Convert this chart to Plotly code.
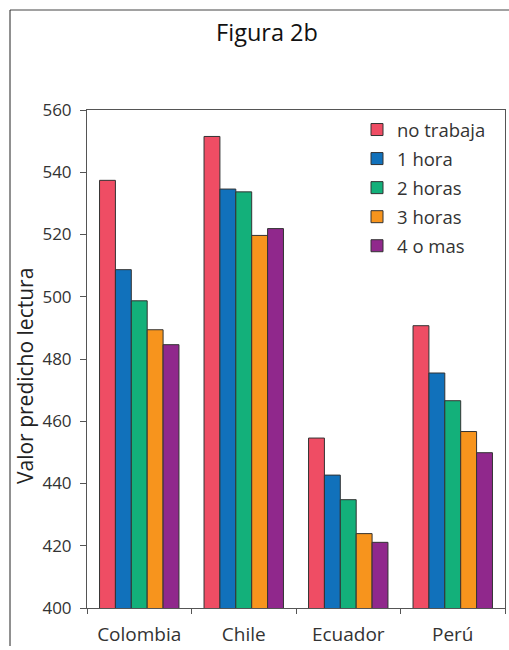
import plotly.graph_objects as go

categories = ["Colombia", "Chile", "Ecuador", "Perú"]
series_names = ["no trabaja", "1 hora", "2 horas", "3 horas", "4 o mas"]
no_trabaja = [537.4, 551.5, 454.6, 490.7]
una_hora = [508.7, 534.6, 442.7, 475.5]
dos_horas = [498.7, 533.7, 434.8, 466.6]
tres_horas = [489.4, 519.7, 423.9, 456.7]
cuatro_mas = [484.6, 521.9, 421.1, 449.9]
y_ticks = [400, 420, 440, 460, 480, 500, 520, 540, 560]

series_values = [no_trabaja, una_hora, dos_horas, tres_horas, cuatro_mas]
colors = ["#EF4D64", "#1171BB", "#13B07A", "#F7941D", "#90288C"]

FONT = "Open Sans"
TXT = "#333333"

fig = go.Figure()
for i, (name, vals) in enumerate(zip(series_names, series_values)):
    fig.add_trace(go.Bar(
        x=categories, y=vals, name=name,
        marker=dict(color=colors[i], line=dict(color="#333333", width=1)),
        legendgroup=f"g{i}",
    ))

W, H = 509, 650
L, R, T, B = 87, 4, 110, 42
pw, ph = W - L - R, H - T - B

def px(x):
    return (x - L) / pw

def py(y):
    return (H - B - y) / ph

fig.update_layout(
    width=W, height=H,
    margin=dict(l=L, r=R, t=T, b=B, pad=0),
    paper_bgcolor="white", plot_bgcolor="white",
    barmode="group", bargap=0.24, bargroupgap=0,
    font=dict(family=FONT, size=17, color=TXT),
    title=dict(text="Figura 2b", x=267 / W, xanchor="center", y=1 - 33 / H, yanchor="middle",
               font=dict(family=FONT, size=23.5, color="#111111")),
    legend=dict(x=px(357), xanchor="left", y=py(111), yanchor="top",
                bgcolor="rgba(0,0,0,0)", font=dict(family=FONT, size=18.5, color=TXT),
                tracegroupgap=2, traceorder="grouped", itemwidth=30),
    showlegend=True,
    xaxis=dict(showline=True, linecolor="#555555", linewidth=1, mirror=True,
               ticks="outside", ticklen=5, tickcolor="#555555", tickson="boundaries",
               ticklabelstandoff=9,
               showgrid=False, tickfont=dict(family=FONT, size=19, color=TXT)),
    yaxis=dict(range=[400, 560], tickvals=y_ticks, showline=True, linecolor="#555555", linewidth=1,
               mirror=True, ticks="outside", ticklen=6, tickcolor="#555555", showgrid=False,
               ticklabelstandoff=5,
               zeroline=False, tickfont=dict(family=FONT, size=17, color=TXT)),
    annotations=[
        dict(text="Valor predicho lectura", xref="paper", yref="paper", x=px(25), y=py(376),
             xanchor="center", yanchor="middle", textangle=-90, showarrow=False,
             font=dict(family=FONT, size=21, color="#222222")),
    ],
    shapes=[
        dict(type="line", xref="paper", yref="paper", x0=px(10), x1=px(W + 5), y0=py(10), y1=py(10),
             line=dict(color="#444444", width=1)),
        dict(type="line", xref="paper", yref="paper", x0=px(10), x1=px(10), y0=py(10), y1=py(646),
             line=dict(color="#222222", width=1)),
    ],
)

fig.write_html("out.html", config={"displayModeBar": False},
               post_script="document.body.style.margin='0';document.body.style.overflow='hidden';")
